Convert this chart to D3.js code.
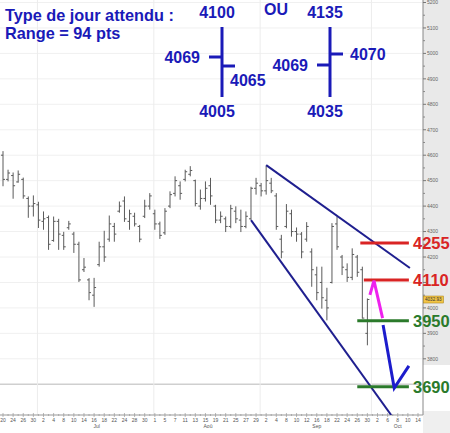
<!DOCTYPE html>
<html>
<head>
<meta charset="utf-8">
<script src="https://cdn.jsdelivr.net/npm/d3@7"></script>
<style>
  body { margin: 0; background: #fff; }
  text { font-family: "Liberation Sans", Arial, sans-serif; }
</style>
</head>
<body>
<div id="chart"></div>
<script>
// CAC 40 daily bars, Jun 20 -> Sep 30 (index 0 = Jun 20)
var opens  = [4600,4505,4520,4495,4505,4430,4400,4405,4340,4355,4265,4340,4285,4315,4290,4250,4150,4110,4050,4170,4240,4270,4320,4380,4420,4340,4360,4320,4360,4400,4370,4330,4295,4400,4450,4480,4505,4525,4500,4400,4430,4480,4400,4345,4350,4320,4380,4345,4320,4350,4470,4480,4460,4490,4440,4270,4320,4370,4300,4290,4270,4220,4130,4100,4030,4100,4330,4200,4150,4120,4200,4150,3900];
var highs  = [4616,4543,4532,4540,4512,4438,4442,4417,4379,4363,4359,4350,4299,4342,4299,4260,4196,4117,4118,4260,4303,4363,4334,4418,4438,4386,4374,4326,4425,4451,4386,4339,4392,4458,4517,4497,4543,4557,4504,4465,4497,4511,4405,4379,4359,4405,4399,4386,4379,4476,4511,4491,4559,4511,4451,4287,4408,4386,4316,4298,4337,4234,4162,4162,4079,4333,4359,4208,4175,4234,4208,4162,4037];
var lows   = [4478,4497,4429,4492,4429,4354,4359,4314,4307,4228,4260,4228,4228,4307,4216,4102,4141,4030,4004,4162,4181,4260,4260,4374,4338,4307,4320,4258,4353,4386,4307,4271,4287,4392,4438,4425,4497,4517,4399,4386,4418,4405,4333,4333,4298,4313,4333,4298,4313,4346,4445,4438,4445,4451,4307,4195,4313,4280,4260,4195,4260,4083,4030,3997,3951,4096,4228,4129,4102,4109,4122,3958,3853];
var closes = [4505,4530,4480,4525,4440,4400,4410,4345,4350,4250,4340,4290,4240,4330,4250,4110,4160,4060,4080,4240,4200,4330,4290,4400,4350,4370,4330,4270,4400,4440,4330,4285,4380,4445,4500,4450,4535,4540,4410,4430,4470,4440,4345,4360,4320,4390,4350,4320,4360,4470,4490,4460,4500,4460,4320,4220,4380,4300,4290,4220,4320,4150,4060,4040,4000,4320,4240,4160,4120,4210,4140,3960,4033];
var lastPrice = 4032.93;

// every second trading day, Jun 20 -> Oct 14
var dayLabels = ["20","24","26","30","2","4","8","10","14","16","18","22","24","28","30","1","5","7","11","13","15","19","21","25","27","29","2","4","8","10","12","16","18","22","24","26","30","2","6","8","10","14"];
var monthNames = ["Jul","Aoû","Sep","Oct"];
var monthFirstDay = [7, 30, 51, 73];
var monthLastDay = [29, 50, 72, 82];
var lastDay = 82;
var priceTicks = [3800,3900,4000,4100,4200,4300,4400,4500,4600,4700,4800,4900,5000,5100,5200];

// annotations (trading-day index, price)
var upperTrend = [[52, 4561], [80.4, 4157]];
var lowerTrend = [[49, 4345], [76.7, 3579]];
var resistances = [4255, 4110];
var supports = [3950, 3690];
var levelFrom = [70.6, 71.3, 70.0, 70.0];
var levelTo = 80.2;
var pinkArrow = [[72.5, 4051], [73.3, 4107], [75.0, 3960]];
var blueArrow = [[75.1, 3933], [77.3, 3685], [80.2, 3772]];

// expected day: high, open, close, low
var expectedA = [4100, 4069, 4065, 4005];
var expectedB = [4135, 4069, 4070, 4035];

var W = 450, H = 433;
var axisX = 423, axisY = 415;

var svg = d3.select("#chart").append("svg")
  .attr("width", W).attr("height", H);

var x = d3.scaleLinear().domain([0, lastDay]).range([3, 418]);
var y = d3.scaleLinear().domain([3800, 4200]).range([358.8, 257]);

// right price panel
svg.append("rect").attr("x", axisX).attr("y", 0).attr("width", W - axisX).attr("height", 365)
  .attr("fill", "#e9e9e9");
svg.append("rect").attr("x", axisX).attr("y", axisY - 4).attr("width", W - axisX).attr("height", H - axisY + 4)
  .attr("fill", "#efefef");

// grid
svg.append("g").selectAll("line").data(priceTicks.concat([3700])).enter().append("line")
  .attr("x1", 0).attr("x2", axisX)
  .attr("y1", d => y(d)).attr("y2", d => y(d))
  .attr("stroke", d => d == 3700 ? "#cfcfcf" : "#f0f0f0")
  .attr("stroke-width", d => d == 3700 ? 1.6 : 1);

svg.append("g").selectAll("line").data(monthFirstDay).enter().append("line")
  .attr("x1", d => x(d) - 1).attr("x2", d => x(d) - 1)
  .attr("y1", 0).attr("y2", axisY)
  .attr("stroke", "#ececec");

var levels = resistances.concat(supports);

// price axis
var rightAxis = svg.append("g").attr("transform", `translate(${axisX},0)`);
rightAxis.append("line").attr("x1", 0).attr("x2", 0).attr("y1", 0).attr("y2", axisY)
  .attr("stroke", "#888");
var minorTicks = priceTicks.map(d => d + 50).filter(d => d < 5200);
rightAxis.selectAll(".mn").data(minorTicks).enter().append("line")
  .attr("x1", 0).attr("x2", 2).attr("y1", d => y(d)).attr("y2", d => y(d))
  .attr("stroke", "#888");
rightAxis.selectAll(".mj").data(priceTicks).enter().append("line")
  .attr("x1", 0).attr("x2", 3).attr("y1", d => y(d)).attr("y2", d => y(d))
  .attr("stroke", "#777");
// labels hidden under a level text are left out, as in the original
var shownTicks = priceTicks.filter(d => levels.every(v => Math.abs(y(v) - y(d)) > 8));
rightAxis.selectAll("text").data(shownTicks).enter().append("text")
  .attr("x", 4).attr("y", d => y(d) + 1.8)
  .attr("font-size", 5).attr("fill", "#666")
  .text(d => d);

// last price box
rightAxis.append("rect").attr("x", 0.5).attr("y", y(lastPrice) - 3.5).attr("width", 20).attr("height", 7)
  .attr("fill", "#f2c547").attr("stroke", "#a07a10").attr("stroke-width", 0.5);
rightAxis.append("text").attr("x", 2).attr("y", y(lastPrice) + 1.7)
  .attr("font-size", 4.6).attr("fill", "#333").text(lastPrice.toFixed(2));

// time axis
var bottom = svg.append("g");
bottom.append("line").attr("x1", 0).attr("x2", axisX).attr("y1", axisY).attr("y2", axisY)
  .attr("stroke", "#999");
bottom.selectAll(".tk").data(d3.range(0, lastDay + 1)).enter().append("line")
  .attr("x1", d => x(d)).attr("x2", d => x(d))
  .attr("y1", d => d % 2 ? axisY - 1 : axisY - 2).attr("y2", d => d % 2 ? axisY + 1 : axisY + 2)
  .attr("stroke", "#999").attr("stroke-width", 0.7);
bottom.selectAll(".dl").data(dayLabels).enter().append("text")
  .attr("x", (d, i) => x(i * 2)).attr("y", axisY + 7)
  .attr("text-anchor", "middle").attr("font-size", 5).attr("fill", "#555")
  .text(d => d);
bottom.selectAll(".ml").data(monthNames).enter().append("text")
  .attr("x", (d, i) => x((monthFirstDay[i] + monthLastDay[i]) / 2 + 0.5)).attr("y", axisY + 13)
  .attr("text-anchor", "middle").attr("font-size", 5).attr("fill", "#555")
  .text(d => d);

// OHLC bars
var bars = svg.append("g").attr("stroke", "#5a5a5a").attr("stroke-width", 1);
bars.selectAll(".hl").data(highs).enter().append("line")
  .attr("x1", (d, i) => x(i)).attr("x2", (d, i) => x(i))
  .attr("y1", d => y(d)).attr("y2", (d, i) => y(lows[i]));
bars.selectAll(".op").data(opens).enter().append("line")
  .attr("x1", (d, i) => x(i) - 2).attr("x2", (d, i) => x(i))
  .attr("y1", d => y(d)).attr("y2", d => y(d));
bars.selectAll(".cl").data(closes).enter().append("line")
  .attr("x1", (d, i) => x(i)).attr("x2", (d, i) => x(i) + 2)
  .attr("y1", d => y(d)).attr("y2", d => y(d));

// trend channel
var line = d3.line().x(d => x(d[0])).y(d => y(d[1]));
svg.append("defs").append("clipPath").attr("id", "plotClip")
  .append("rect").attr("x", 0).attr("y", 0).attr("width", axisX).attr("height", axisY);
[upperTrend, lowerTrend].forEach(function(t) {
  svg.append("path").attr("d", line(t)).attr("clip-path", "url(#plotClip)")
    .attr("fill", "none").attr("stroke", "#1f1f8f").attr("stroke-width", 2);
});

// levels
levels.forEach(function(v, i) {
  var col = i < resistances.length ? "#d92424" : "#2b7a2b";
  svg.append("line")
    .attr("x1", x(levelFrom[i])).attr("x2", x(levelTo))
    .attr("y1", y(v)).attr("y2", y(v))
    .attr("stroke", col).attr("stroke-width", 3);
  svg.append("text")
    .attr("x", 413).attr("y", y(v) + 6)
    .attr("font-size", 16.5).attr("font-weight", "bold").attr("fill", col)
    .text(v);
});

// arrows
svg.append("path").attr("d", line(pinkArrow))
  .attr("fill", "none").attr("stroke", "#ee22ee").attr("stroke-width", 3)
  .attr("stroke-linejoin", "miter");
svg.append("path").attr("d", line(blueArrow))
  .attr("fill", "none").attr("stroke", "#1c1ccc").attr("stroke-width", 3)
  .attr("stroke-linejoin", "miter");

// header text
var blue = "#1a1ab8";
var hdr = svg.append("g").attr("fill", blue).attr("font-weight", "bold").attr("font-size", 16.3);
hdr.append("text").attr("x", 5).attr("y", 21).text("Type de jour attendu :");
hdr.append("text").attr("x", 5).attr("y", 39).text("Range = 94 pts");
hdr.append("text").attr("x", 276).attr("y", 15).attr("font-size", 16).attr("text-anchor", "middle").text("OU");

// expected day bar sketches
function sketch(vals, cx, openLeftY, closeRightY, lay) {
  var g = svg.append("g");
  g.append("line").attr("x1", cx).attr("x2", cx).attr("y1", 27).attr("y2", 97)
    .attr("stroke", blue).attr("stroke-width", 3);
  g.append("line").attr("x1", cx - 13).attr("x2", cx).attr("y1", openLeftY).attr("y2", openLeftY)
    .attr("stroke", blue).attr("stroke-width", 3);
  g.append("line").attr("x1", cx).attr("x2", cx + 13).attr("y1", closeRightY).attr("y2", closeRightY)
    .attr("stroke", blue).attr("stroke-width", 3);
  var t = g.append("g").attr("fill", blue).attr("font-weight", "bold").attr("font-size", 16);
  t.append("text").attr("x", cx - 5).attr("y", 18).attr("text-anchor", "middle").text(vals[0]);
  t.append("text").attr("x", cx - 22).attr("y", openLeftY + 6).attr("text-anchor", "end").text(vals[1]);
  t.append("text").attr("x", cx + lay).attr("y", closeRightY + 6 + (lay < 15 ? 14 : 0)).text(vals[2]);
  t.append("text").attr("x", cx - 5).attr("y", 117).attr("text-anchor", "middle").text(vals[3]);
}
sketch(expectedA, 222, 57, 66, 8);
sketch(expectedB, 330, 65, 54, 20);
</script>
</body>
</html>
